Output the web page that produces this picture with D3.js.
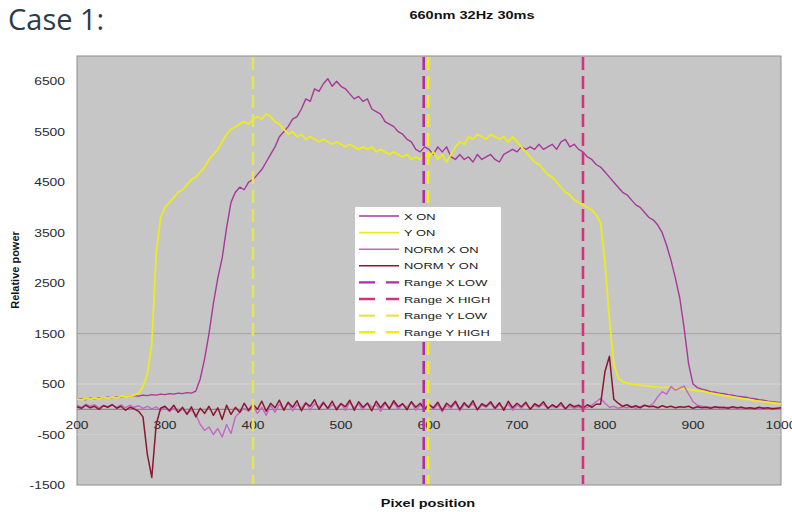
<!DOCTYPE html>
<html><head><meta charset="utf-8">
<script src="https://cdn.jsdelivr.net/npm/d3@7"></script>
<style>html,body{margin:0;padding:0;background:#fff;}svg{display:block;}</style>
</head><body>
<svg id="c" width="792" height="512"></svg>
<script>
// ---- data ----
const pixelStart = 200, pixelEnd = 1000, pixelStep = 5;
const xTicks = [200, 300, 400, 500, 600, 700, 800, 900, 1000];
const yTicks = [-1500, -500, 500, 1500, 2500, 3500, 4500, 5500, 6500];

const xOn = [200,210,190,220,210,230,220,240,230,250,240,260,250,270,260,280,270,290,280,300,290,310,300,320,310,330,320,
 360,600,1000,1500,2100,2600,3000,3600,4100,4300,4400,4350,4500,4550,
 4650,4750,4900,5050,5200,5400,5500,5600,5750,5800,5950,6150,6100,6350,6300,6450,6550,6400,6500,6400,
 6350,6250,6150,6200,6100,6150,5950,5900,5850,5700,5650,5600,5500,5450,5350,5300,5150,5100,5200,5150,
 5050,5200,5100,5200,5000,4950,5050,4950,5000,4900,5050,4950,5000,5050,4950,4900,5050,5100,5150,5100,
 5200,5150,5200,5150,5250,5150,5200,5250,5150,5300,5350,5200,5250,5150,5100,5000,4950,4850,4800,4700,
 4600,4500,4400,4300,4250,4150,4050,4000,3900,3800,3750,3650,3500,3250,2950,2600,2200,1600,900,500,
 430,400,380,350,340,320,310,290,280,260,250,240,220,210,190,180,160,150,140,130];

const yOn = [200,190,210,200,220,210,230,220,240,230,250,260,250,280,320,450,700,1300,3100,3800,4000,4100,4200,4300,4350,4450,4550,
 4600,4700,4800,4950,5050,5150,5300,5450,5550,5600,5650,5700,5650,5750,
 5800,5750,5850,5800,5700,5650,5550,5450,5500,5400,5450,5350,5400,5350,5300,5350,5300,5250,5300,5250,
 5200,5250,5200,5150,5200,5150,5200,5100,5150,5100,5050,5100,5050,5000,5050,4950,5000,4950,5050,5000,
 5100,4950,5050,4900,5050,5200,5300,5250,5400,5350,5450,5400,5350,5450,5400,5350,5400,5300,5400,5300,
 5200,5100,5000,4900,4850,4750,4650,4600,4500,4400,4300,4250,4150,4100,4050,4000,3950,3850,3700,2900,
 1800,900,620,550,520,500,490,480,470,460,450,440,430,440,430,420,410,400,390,380,
 370,360,340,320,300,290,270,260,240,230,210,200,190,170,160,150,140,130,120,110];

const normXOn = [80,40,100,60,90,30,80,50,100,40,90,30,80,40,70,20,60,10,50,-20,40,-40,20,-60,0,-80,-20,
 -100,-300,-420,-350,-500,-380,-550,-300,-480,-150,-60,20,-40,60,
 -80,40,-120,80,-60,100,0,120,-30,90,20,140,-10,110,40,150,0,90,30,120,
 -20,140,30,100,-10,130,40,90,-40,110,20,130,0,100,40,140,-20,80,30,110,
 0,90,-50,70,20,120,-30,90,30,110,-10,80,40,120,0,90,30,100,-20,80,
 20,110,0,70,40,100,10,60,30,80,0,60,20,50,10,40,80,150,220,120,
 40,60,20,50,30,60,20,50,80,60,120,250,350,300,450,380,420,460,300,150,
 80,60,50,40,30,50,20,40,30,20,40,10,30,20,10,30,0,20,10,0];

const normYOn = [50,20,80,30,60,0,70,40,90,20,60,-20,40,10,-40,-150,-900,-1350,-300,20,60,-30,80,-60,40,-100,50,
 -150,20,-80,60,-120,30,-200,80,-100,40,-60,120,-20,100,
 0,160,-40,120,30,180,-20,140,40,170,-30,120,60,190,0,130,20,160,-10,110,
 50,180,-20,150,40,120,-30,160,30,140,10,170,50,110,-10,150,40,120,0,90,
 30,140,-20,120,50,160,0,130,40,170,-10,110,60,150,20,130,-20,160,30,120,
 50,140,0,110,60,150,20,90,40,130,10,100,50,80,30,90,40,100,100,750,
 1050,200,120,60,90,40,70,30,80,50,60,30,70,40,60,30,50,40,60,20,
 50,30,40,20,50,30,40,20,50,30,40,20,30,10,40,20,30,10,20,30];

const rangeXLow = 594, rangeXHigh = 775, rangeYLow = 400, rangeYHigh = 599;

const seriesNames = ["X ON","Y ON","NORM X ON","NORM Y ON","Range X LOW","Range X HIGH","Range Y LOW","Range Y HIGH"];
const seriesColors = ["#a8389a","#ecec1c","#c466c8","#8c1830","#b02ea0","#d3327c","#e4e45a","#f2f000"];

// ---- chart ----
const svg = d3.select("#c");
const L = 77, R = 781, T = 56, B = 485;
const x = d3.scaleLinear().domain([pixelStart, pixelEnd]).range([L, R]);
const y = d3.scaleLinear().domain([-1500, 7000]).range([B, T]);
const SX = 1.32;
const font = "'Liberation Sans', Arial, sans-serif";

function stext(g, str, px, py, anchor, size, weight, fill) {
  return g.append("text").attr("transform", `translate(${px},${py}) scale(${SX},1)`)
    .attr("text-anchor", anchor).attr("font-family", font).attr("font-size", size)
    .attr("font-weight", weight).attr("fill", fill).text(str);
}

// heading
svg.append("text").attr("x", 8).attr("y", 30).attr("font-family", "'Open Sans', sans-serif")
  .attr("font-size", 29).attr("fill", "#2c3b47").text("Case 1:");
stext(svg, "660nm 32Hz 30ms", 472, 19, "middle", 11, "bold", "#111");

// plot area
svg.append("rect").attr("x", L).attr("y", T).attr("width", R - L).attr("height", B - T)
  .attr("fill", "#c6c6c6").attr("stroke", "#8e8e8e").attr("stroke-width", 1);

// gridlines
svg.append("line").attr("x1", L).attr("x2", R).attr("y1", y(1500)).attr("y2", y(1500))
  .attr("stroke", "#a2a2a2").attr("stroke-width", 1);
svg.append("line").attr("x1", L).attr("x2", R).attr("y1", y(500)).attr("y2", y(500))
  .attr("stroke", "#d2d2d2").attr("stroke-width", 1);
svg.append("line").attr("x1", L).attr("x2", R).attr("y1", y(-500)).attr("y2", y(-500))
  .attr("stroke", "#cfcfcf").attr("stroke-width", 1);

// x axis line at 0
svg.append("line").attr("x1", L).attr("x2", R).attr("y1", y(0)).attr("y2", y(0))
  .attr("stroke", "#7a7a7a").attr("stroke-width", 1);

// y tick labels
const yg = svg.append("g");
yTicks.forEach(v => stext(yg, String(v), 65, y(v) + 4, "end", 10.5, "normal", "#2a2a2a"));
// x tick labels
const xg = svg.append("g");
xTicks.forEach(v => stext(xg, String(v), x(v), y(0) + 20, "middle", 10.5, "normal", "#2a2a2a"));

// axis titles
stext(svg, "Pixel position", 428, 507, "middle", 11, "bold", "#111");
svg.append("text").attr("transform", "translate(19,270) rotate(-90)").attr("text-anchor", "middle")
  .attr("font-family", font).attr("font-size", 11).attr("font-weight", "bold").attr("fill", "#111")
  .text("Relative power");

// lines
const px = d3.range(pixelStart, pixelEnd + 1, pixelStep);
const line = d3.line().x((d, i) => x(px[i])).y(d => y(d));
const dataSeries = [xOn, yOn, normXOn, normYOn];
const widths = [1.4, 1.8, 1.4, 1.5];
const plot = svg.append("g");
dataSeries.forEach((s, i) => {
  plot.append("path").datum(s).attr("d", line).attr("fill", "none")
    .attr("stroke", seriesColors[i]).attr("stroke-width", widths[i]).attr("stroke-linejoin", "round");
});

// range lines
const ranges = [rangeXLow, rangeXHigh, rangeYLow, rangeYHigh];
ranges.forEach((v, i) => {
  plot.append("line").attr("x1", x(v)).attr("x2", x(v)).attr("y1", T + 1).attr("y2", B - 1)
    .attr("stroke", seriesColors[4 + i]).attr("stroke-width", 2.6).attr("stroke-dasharray", "13,6");
});

// legend
const lg = svg.append("g");
const lx = 355, ly = 207, lw = 146, lh = 134, rowH = 16.6;
lg.append("rect").attr("x", lx).attr("y", ly).attr("width", lw).attr("height", lh).attr("fill", "#fff");
seriesNames.forEach((n, i) => {
  const cy = 216 + i * rowH;
  const ln = lg.append("line").attr("x1", 359).attr("x2", 399).attr("y1", cy).attr("y2", cy)
    .attr("stroke", seriesColors[i]).attr("stroke-width", i < 4 ? 1.6 : 2.4);
  if (i >= 4) ln.attr("stroke-dasharray", "16,11");
  stext(lg, n, 404, cy + 3.5, "start", 9.8, "normal", "#1a1a1a");
});
</script>
</body></html>
